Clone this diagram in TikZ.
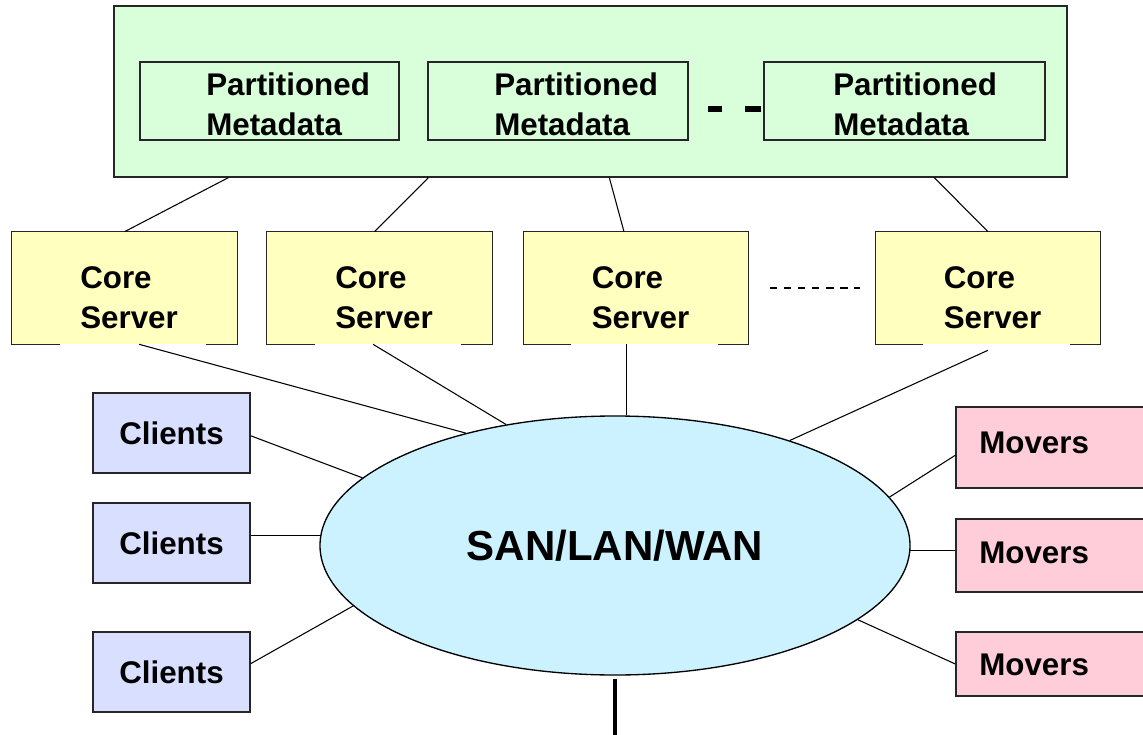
\documentclass[tikz,border=0pt]{standalone}
\usepackage{fontspec}
\setmainfont{Liberation Sans}
\usetikzlibrary{shapes.geometric,positioning,calc}

\definecolor{metagreen}{RGB}{216,255,218}
\definecolor{coreyellow}{RGB}{255,255,192}
\definecolor{clientblue}{RGB}{217,224,255}
\definecolor{moverpink}{RGB}{255,204,218}
\definecolor{netblue}{RGB}{204,242,255}

\begin{document}
\begin{tikzpicture}[x=0.75pt, y=-0.75pt,
  every node/.style={font=\fontsize{23.5}{29.8}\selectfont\bfseries, inner sep=0pt},
  box/.style={rectangle, draw=black!85, line width=1pt},
  meta/.style={box, fill=metagreen, minimum height=58.5pt},
  core/.style={rectangle, fill=coreyellow, minimum width=168.75pt, minimum height=84pt},
  client/.style={box, fill=clientblue, minimum width=117.75pt, minimum height=60pt},
  mover/.style={box, fill=moverpink, minimum width=165pt},
  lbl/.style={anchor=west, align=left},
  link/.style={line width=0.8pt}]

  \useasboundingbox (0,0) rectangle (1143,735);
  \clip (0,0) rectangle (1143,735);

  % metadata tier
  \node[box, fill=metagreen, minimum width=714.75pt, minimum height=128.25pt] (meta) at (590.5,91.5) {};
  \node[meta, minimum width=194.25pt] (pm1) at (269.5,101) {};
  \node[meta, minimum width=195pt] (pm2) at (558,101) {};
  \node[meta, minimum width=210.75pt] (pm3) at (904.5,101) {};
  \node[lbl] (pm1t) at (206,104) {Partitioned\\Metadata};
  \node[lbl] (pm2t) at (494,104) {Partitioned\\Metadata};
  \node[lbl] (pm3t) at (833,104) {Partitioned\\Metadata};
  \draw[line width=4.5pt, dash pattern=on 12pt off 17.25pt]
    ([xshift=-1.5pt,yshift=-6pt]pm3.west) -- ([xshift=14.25pt,yshift=-6pt]pm2.east);

  % core servers (bottom edge left open in the middle)
  \foreach \n/\x in {1/124.5, 2/379.5, 3/636, 4/988} {
    \node[core] (c\n) at (\x,288) {};
    \draw[draw=black!85, line width=1pt] (c\n.south west) ++(48,0) -- (c\n.south west)
      -- (c\n.north west) -- (c\n.north east) -- (c\n.south east) -- ++(-31,0);
    \node[lbl] (ct\n) at (\x-44.5,297.5) {Core\\Server};
  }
  \draw[line width=1.5pt, dash pattern=on 5.6pt off 4.95pt]
    ([xshift=15.75pt]c3.east) -- ([xshift=-11.25pt]c4.west);

  % network
  \node[ellipse, draw=black, line width=1pt, fill=netblue,
    minimum width=442.5pt, minimum height=194.25pt,
    font=\fontsize{31.5}{36}\selectfont\bfseries] (net) at (615,545.5) {SAN/LAN/WAN};

  % clients and movers
  \foreach \n/\y in {1/433, 2/543, 3/672}
    \node[client] (cl\n) at (171.5,\y) {Clients};
  \node[mover, minimum height=60.75pt] (mv1) at (1066,447.5) {};
  \node[mover, minimum height=54.75pt] (mv2) at (1066,555.5) {};
  \node[mover, minimum height=48pt] (mv3) at (1066,664) {};
  \node[lbl] (mv1t) at (979,443) {Movers};
  \node[lbl] (mv2t) at (979,553) {Movers};
  \node[lbl] (mv3t) at (979,665) {Movers};

  % links
  \draw[link] ($(meta.south west)+(115,0)$) -- (c1.north);
  \draw[link] ($(meta.south west)+(315,0)$) -- ($(c2.north)+(-5,0)$);
  \draw[link] ($(meta.south west)+(496,0)$) -- ($(c3.north)+(-12,0)$);
  \draw[link] ($(meta.south west)+(821,0)$) -- (c4.north);

  \draw[link] ($(c1.south)+(14.5,0)$) -- (net.143.1);
  \draw[link] ($(c2.south)+(-6.5,0)$) -- (net.132.4);
  \draw[link] (net.85) -- (net.85 |- c3.south);
  \draw[link] (c4.south) ++(0,6) -- (net.31);

  \draw[link] (cl1.-2) -- (net.165.65);
  \draw[link] (net.178.8) -- (net.178.8 -| cl2.east);
  \draw[link] (cl3.6.5) -- (net.193.4);

  \draw[link] (net.10.5) -- (mv1.184.4);
  \draw[link] (net.-1.4) -- (net.-1.4 -| mv2.west);
  \draw[link] (net.-17.4) -- (mv3.west);

  \coordinate (trunk) at (615,740);
  \draw[line width=3pt] ([yshift=-2.25pt]net.south) -- (trunk);
\end{tikzpicture}
\end{document}
